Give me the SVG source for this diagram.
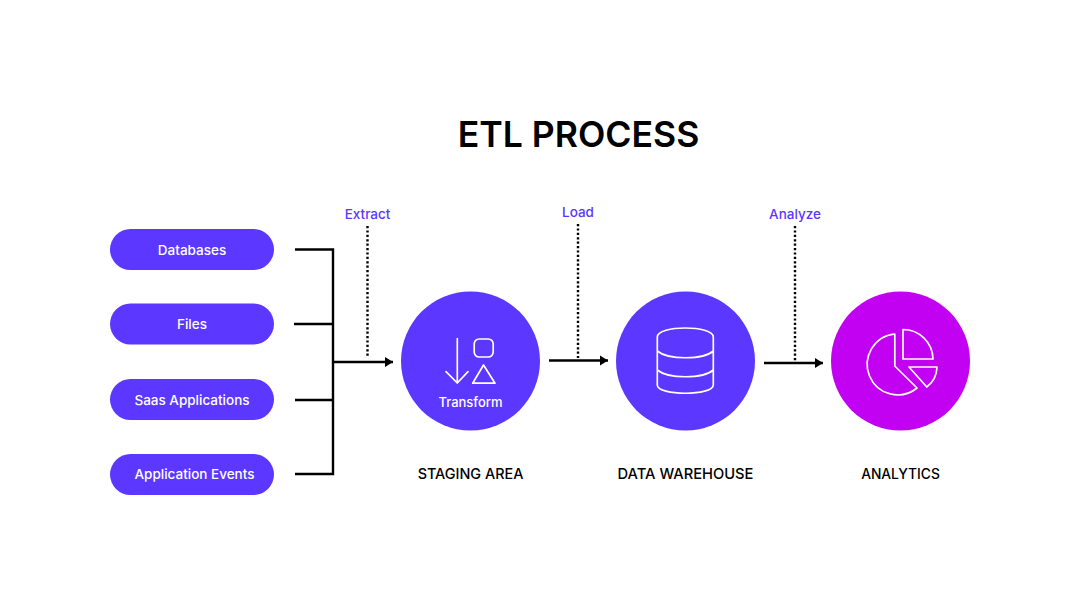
<svg xmlns="http://www.w3.org/2000/svg" width="1080" height="608" viewBox="0 0 1080 608">
<style>
text{font-family:Inter,"Liberation Sans",sans-serif}
.pill{fill:#5b37ff}
.pt{fill:#fff;font-size:13.5px;font-weight:500;text-anchor:middle}
.cap{fill:#000;font-size:14.4px;font-weight:500;text-anchor:middle}
.lab{fill:#5b37ff;font-size:13.5px;font-weight:500;text-anchor:middle}
.ln{fill:none;stroke:#000;stroke-width:2.4}
.dot{fill:none;stroke:#000;stroke-width:2.4;stroke-dasharray:2.2 2.2}
.ic{fill:none;stroke:#fff;stroke-width:1.7;stroke-linejoin:round;stroke-linecap:round}
</style>
<defs><marker id="a" markerUnits="userSpaceOnUse" markerWidth="9" markerHeight="12" refX="8" refY="6" orient="auto"><path d="M0 1L8 6L0 11z" fill="#000"/></marker></defs>
<rect width="1080" height="608" fill="#fff"/>
<text x="578.500" y="147" text-anchor="middle" font-size="35.600" font-weight="600" fill="#000">ETL PROCESS</text>
<g id="connectors">
<path class="ln" d="M295 249.500H333V474H295M294 324H333M295 400H333"/>
<path class="ln" d="M333 362H393" marker-end="url(#a)"/>
<path class="ln" d="M549 360.500H608" marker-end="url(#a)"/>
<path class="ln" d="M764 363H823" marker-end="url(#a)"/>
<path class="dot" d="M367.500 226V358"/>
<path class="dot" d="M578 224V358"/>
<path class="dot" d="M795 226V361"/>
</g>
<g id="label-extract"><text class="lab" x="367.500" y="219">Extract</text></g>
<g id="label-load"><text class="lab" x="578" y="217">Load</text></g>
<g id="label-analyze"><text class="lab" x="795" y="219">Analyze</text></g>
<g id="databases"><rect class="pill" x="110" y="229" width="164" height="41" rx="20.500"/><text class="pt" x="192" y="254.500">Databases</text></g>
<g id="files"><rect class="pill" x="110" y="303.500" width="164" height="41" rx="20.500"/><text class="pt" x="192" y="329">Files</text></g>
<g id="saas"><rect class="pill" x="110" y="379" width="164" height="41" rx="20.500"/><text class="pt" x="192" y="404.500">Saas Applications</text></g>
<g id="events"><rect class="pill" x="110" y="454" width="164" height="41" rx="20.500"/><text class="pt" x="194.500" y="479">Application Events</text></g>
<g id="staging">
<circle cx="470.500" cy="361" r="69.500" fill="#5b37ff"/>
<path class="ic" d="M457.300 338.500V383M446 371.700L457.300 383L468 371.700"/>
<rect class="ic" x="474.200" y="339" width="19" height="18" rx="5"/>
<path class="ic" d="M483.500 365L495 383.200H472.700z"/>
<text x="470.500" y="406.700" text-anchor="middle" font-size="13" font-weight="500" fill="#fff">Transform</text>
<text class="cap" x="470.500" y="479">STAGING AREA</text>
</g>
<g id="warehouse">
<circle cx="685.500" cy="361" r="69.500" fill="#5b37ff"/>
<path class="ic" d="M657.300 337C657.300 325 713.300 325 713.300 337V385C713.300 396 657.300 396 657.300 385zM657.300 351C668 360 703 360 713.300 351M657.300 370C668 379 703 379 713.300 370"/>
<text class="cap" style="font-size:14.700px" x="685.500" y="479">DATA WAREHOUSE</text>
</g>
<g id="analytics">
<circle cx="900.500" cy="361" r="69.500" fill="#c200f2"/>
<path class="ic" d="M894.800 334A30.500 30.500 0 1 0 917 388L894.800 366z"/>
<path class="ic" d="M903 329.500A30 30 0 0 1 933 359H903z"/>
<path class="ic" d="M909 367H937A26 26 0 0 1 926.800 387z"/>
<text class="cap" style="font-size:13.800px" x="900.500" y="479">ANALYTICS</text>
</g>
</svg>
